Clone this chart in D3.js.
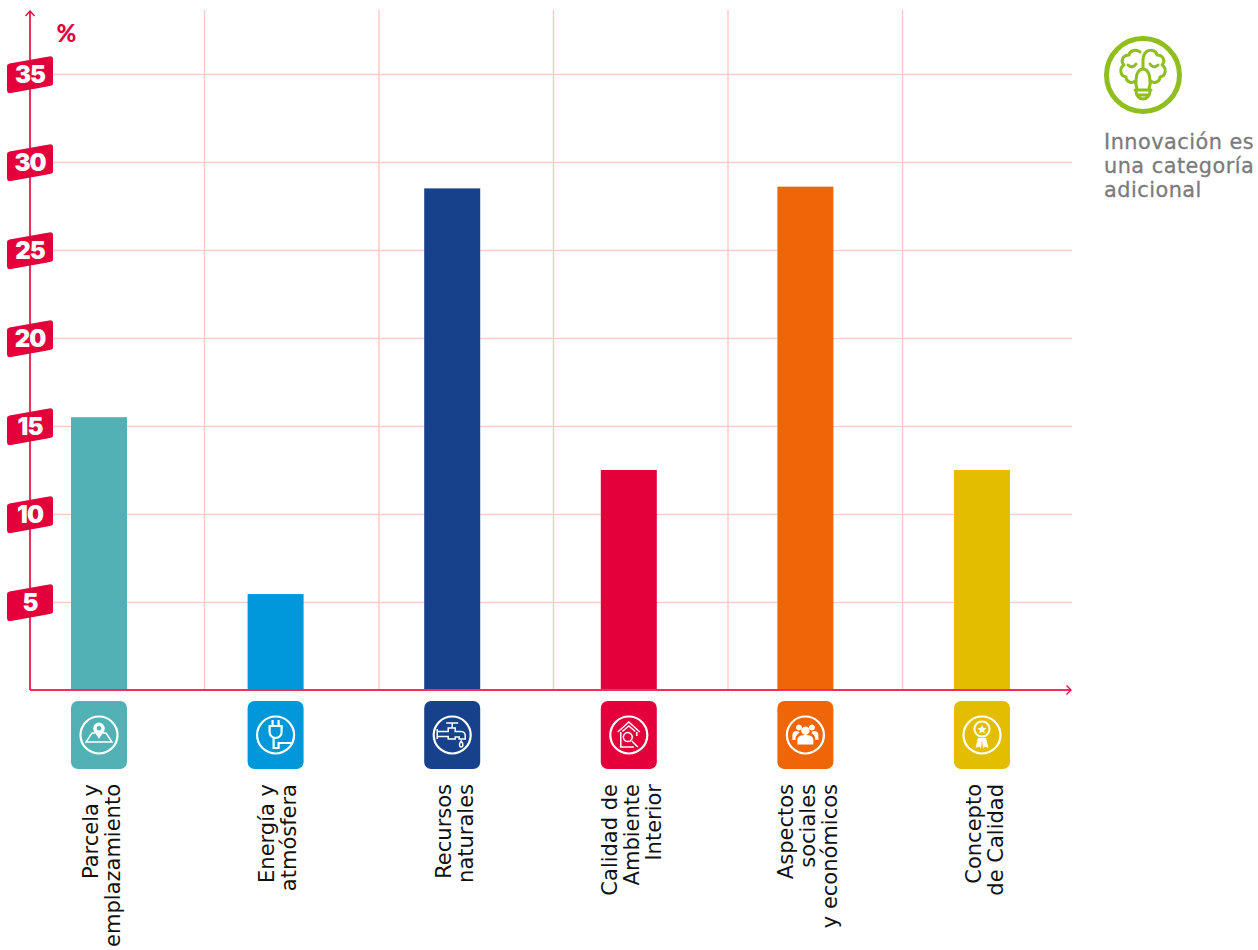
<!DOCTYPE html>
<html lang="es"><head><meta charset="utf-8">
<script src="https://cdn.jsdelivr.net/npm/d3@7"></script>
<style>html,body{margin:0;padding:0;background:#fff}svg{display:block}</style></head>
<body><svg id="c" width="1258" height="950"></svg>
<script>
const categories = ["Parcela","Energia","Recursos","Calidad","Aspectos","Concepto"];
const values = [15.5, 5.45, 28.5, 12.5, 28.6, 12.5];
const colors = ["#51b1b4","#0098d8","#17418a","#e4003b","#ee6608","#e2bd00"];
const labelLines = [
  ["Parcela y","emplazamiento"],
  ["Energía y","atmósfera"],
  ["Recursos","naturales"],
  ["Calidad de","Ambiente","Interior"],
  ["Aspectos","sociales","y económicos"],
  ["Concepto","de Calidad"]
];
const yTicks = [5,10,15,20,25,30,35];
const gridCols = [1,2,3,4,5];
const noteLines = ["Innovación es","una categoría","adicional"];

const svg = d3.select("#c");
const y = d3.scaleLinear().domain([0,35]).range([690,74]);
const x = d3.scaleBand().domain(categories).range([10.7,1070.3]);
const gx = d3.scaleLinear().domain([0,6]).range([30,1077]);
const GRID="#fbcdc9", AXIS="#ee2f5f", RED="#e4003b", FONT="'DejaVu Sans',sans-serif", HEAVY="Inter,sans-serif";

// grid
svg.append("g").selectAll("line").data(yTicks).join("line")
  .attr("x1",30).attr("x2",1072).attr("y1",d=>y(d)+.5).attr("y2",d=>y(d)+.5)
  .attr("stroke",GRID).attr("stroke-width",1.5);
svg.append("g").selectAll("line").data(gridCols).join("line")
  .attr("x1",d=>gx(d)).attr("x2",d=>gx(d)).attr("y1",10).attr("y2",690)
  .attr("stroke",GRID).attr("stroke-width",1.5);

// bars
svg.append("g").selectAll("rect").data(categories).join("rect")
  .attr("x",d=>x(d)+x.bandwidth()/2-28).attr("width",56)
  .attr("y",(d,i)=>y(values[i])).attr("height",(d,i)=>y(0)-y(values[i]))
  .attr("fill",(d,i)=>colors[i]);

// axes
const ax = svg.append("g").attr("fill","none").attr("stroke",AXIS).attr("stroke-width",2);
ax.append("path").attr("d","M30 690V11");
ax.append("path").attr("d","M30 690H1071");
const tips = svg.append("g").attr("fill","none").attr("stroke",RED).attr("stroke-width",1.3);
tips.append("path").attr("d","M25.5 16L30 11L34.5 16");
tips.append("path").attr("d","M1066.5 685.5L1071 690L1066.5 694.5");

svg.append("text").text("%").attr("x",56.5).attr("y",42).attr("fill",RED)
  .attr("font-family","Lato,sans-serif").attr("font-weight",900).attr("font-size",24);

// y tags
const tag = svg.append("g").selectAll("g").data(yTicks).join("g")
  .attr("transform",d=>`translate(30,${y(d)})`);
tag.append("path").attr("fill",RED)
  .attr("d","M-20.5 -10.5L19 -17.6Q23 -18.2 23 -15V10Q23 11.5 20 12L-19 19Q-23 19.7 -23 16V-8Q-23 -10 -20.5 -10.5Z");
tag.append("text").text(d=>d).attr("x",0).attr("y",9).attr("text-anchor","middle")
  .attr("fill","#fff").attr("font-family",HEAVY).attr("font-weight",900).attr("font-size",24).attr("letter-spacing",-1);

// icon chips
const chips = svg.append("g").selectAll("g").data(categories).join("g")
  .attr("transform",d=>`translate(${x(d)+x.bandwidth()/2},735)`);
chips.append("rect").attr("x",-28).attr("y",-34).attr("width",56).attr("height",68).attr("rx",7)
  .attr("fill",(d,i)=>colors[i]);
chips.append("circle").attr("r",18.5).attr("fill","none").attr("stroke","#fff").attr("stroke-width",2.2);
const glyphs = [
  {s:"M-4 -2H-7L-13 7H13L7 -2H4",f:"M0 -12.5A5.8 5.8 0 0 0 -5.8 -6.7C-5.8 -3 -2 0 0 4C2 0 5.8 -3 5.8 -6.7A5.8 5.8 0 0 0 0 -12.5ZM0 -9A2.3 2.3 0 1 1 -0.01 -9Z"},
  {s:"M-6 -9H6V-3A6 6 0 0 1 -6 -3ZM-3 -9V-15M3 -9V-15M-2 3V13H3V8H17",w:2.2},
  {s:"M-15 -6V4M-15 -3.5H-4V-7H3V-3.5H9A4 4 0 0 1 13 1V4H7V2H3V4H-4V1.5H-15M-6 -12H6M0 -12V-7M9 6C6.5 9 7 12 9 12C11 12 11.5 9 9 6Z"},
  {s:"M-11 -3L0 -13L11 -3M-6.5 -3.5L0 -9L6.5 -3.5M-8 -3V12H5M8 -3V1M-1 -2.5A4.5 4.5 0 1 0 -0.99 -2.5M3 6L9 12"},
  {s:"",f:"M-8 9.5V5C-8 1 -4 0 0 0C4 0 8 1 8 5V9.5ZM0 -8.5A4.2 4.2 0 1 0 0.01 -8.5ZM-6.5 -10.5A3 3 0 1 0 -6.49 -10.5ZM6.5 -10.5A3 3 0 1 0 6.51 -10.5ZM-13 5V0C-13 -3 -11 -4 -9 -4C-7 -4 -6 -3 -6 -2C-8 -1 -10 1 -10 5ZM13 5V0C13 -3 11 -4 9 -4C7 -4 6 -3 6 -2C8 -1 10 1 10 5Z"},
  {s:"M0 -13.5A7.5 7.5 0 1 0 0.01 -13.5",w:2,f:"M0 -10L1.3 -7.2L4.4 -6.8L2.1 -4.7L2.7 -1.7L0 -3.2L-2.7 -1.7L-2.1 -4.7L-4.4 -6.8L-1.3 -7.2ZM-4 3L-6.5 13L-3 11.5L-1 13.5L0 5L1 13.5L3 11.5L6.5 13L4 3Z"}
];
chips.append("path").attr("d",(d,i)=>glyphs[i].s).attr("fill","none").attr("stroke","#fff").attr("stroke-width",(d,i)=>glyphs[i].w||1.5);
chips.append("path").attr("d",(d,i)=>glyphs[i].f||"").attr("fill","#fff").attr("fill-rule","evenodd");

// category labels
const lab = svg.append("g").selectAll("text").data(categories).join("text")
  .attr("transform",(d,i)=>`translate(${x(d)+x.bandwidth()/2+(labelLines[i].length==3?-12:-1.5)},784) rotate(-90)`)
  .attr("text-anchor","end").attr("fill","#111").attr("font-family",FONT).attr("font-size",21);
lab.each(function(d,i){
  d3.select(this).selectAll("tspan").data(labelLines[i]).join("tspan")
    .attr("x",0).attr("y",(t,j)=>j*22).text(t=>t);
});

// innovation
const inn = svg.append("g").attr("transform","translate(1143,75)");
inn.append("circle").attr("r",36.5).attr("fill","none").attr("stroke","#8fbe1e").attr("stroke-width",5);
inn.append("path").attr("fill","none").attr("stroke","#8fbe1e").attr("stroke-width",3).attr("stroke-linecap","round").attr("stroke-linejoin","round")
  .attr("d","M-3 -23C-7 -26 -13 -25 -14 -20C-20 -20 -23 -14 -19 -10C-24 -7 -23 1 -17 2C-17 7 -11 9 -8 6C-7 10 -6 12 -6 15H6C6 12 7 10 8 6C11 9 17 7 17 2C23 1 24 -7 19 -10C23 -14 20 -20 14 -20C13 -25 7 -26 3 -23C1 -21 0 -19 0 -15M-7 8C-7 0 -5 -6 0 -6C5 -6 7 0 7 8M0 -15V-6M-15 -10C-12 -7 -9 -8 -7 -11M15 -10C12 -7 9 -8 7 -11M-8 15H8M-7 16A7 8 0 0 0 7 16M-6 20H6");
svg.append("g").selectAll("text").data(noteLines).join("text")
  .attr("x",1104).attr("y",(d,i)=>149+i*24).text(d=>d).attr("fill","#7b7b7b").attr("stroke","#7b7b7b").attr("stroke-width",.3)
  .attr("font-family",FONT).attr("font-size",20.8).attr("letter-spacing",.5);
</script></body></html>
